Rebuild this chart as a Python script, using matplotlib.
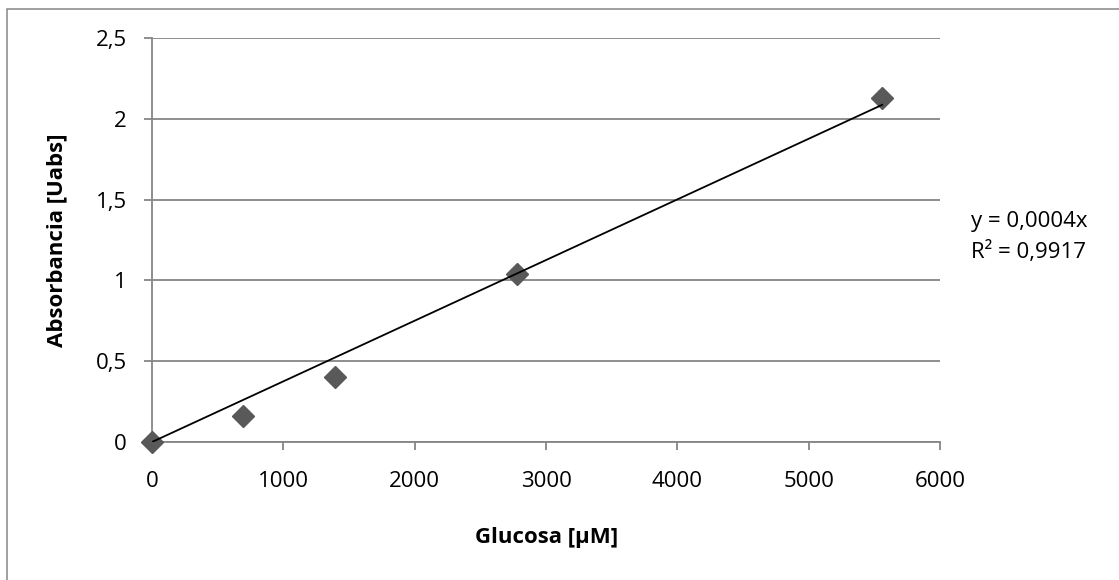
import numpy as np
import matplotlib
matplotlib.use("Agg")
import matplotlib.pyplot as plt
from matplotlib.patches import Rectangle
import matplotlib.ticker as mtick

glucosa = [0, 695, 1390, 2780, 5560]
absorbancia = [0, 0.16, 0.405, 1.04, 2.13]
y_ticks = [0, 0.5, 1, 1.5, 2, 2.5]
x_ticks = [0, 1000, 2000, 3000, 4000, 5000, 6000]
eq_text = "y = 0,0004x"
r2_text = "R² = 0,9917"

plt.rcParams['font.family'] = ['Open Sans', 'DejaVu Sans']
fs = 16
W, H = 1119, 580
fig = plt.figure(figsize=(W / 100, H / 100), dpi=100)

# outer chart border (only top and left visible)
fig.patches.append(Rectangle((7 / W, -0.2), 2, 1.2 - 9 / H,
                             transform=fig.transFigure, fill=False,
                             ec='#868686', lw=1.1))

ax = fig.add_axes([152 / W, 1 - 442 / H, (940 - 152) / W, (442 - 38) / H])

# trend line through origin (least squares)
x = np.array(glucosa, dtype=float)
y = np.array(absorbancia)
slope = (x * y).sum() / (x * x).sum()
xs = np.array([0, x.max()])
ax.plot(xs, slope * xs, color='black', lw=1.3, zorder=4)

ax.plot(glucosa, absorbancia, ls='none', marker='D', ms=11,
        color='#595959', mec='#595959', zorder=3, clip_on=False)

ax.set_xlim(0, 6000)
ax.set_ylim(0, 2.5)
ax.set_xticks(x_ticks)
ax.set_yticks(y_ticks)
ax.yaxis.set_major_formatter(mtick.FuncFormatter(
    lambda v, p: ('%g' % v).replace('.', ',')))
ax.grid(axis='y', color='#868686', lw=1.3)
ax.set_axisbelow(True)
for s in ['top', 'right']:
    ax.spines[s].set_visible(False)
for s in ['left', 'bottom']:
    ax.spines[s].set_color('#868686')
    ax.spines[s].set_linewidth(1.3)
ax.tick_params(axis='both', color='#868686', width=1.3, length=6,
               labelsize=fs, labelcolor='black')
ax.tick_params(axis='x', pad=15)
ax.tick_params(axis='y', pad=12)

fig.text(57 / W, 1 - 240 / H, 'Absorbancia [Uabs]', rotation=90,
         ha='center', va='center', fontsize=fs, fontweight='bold')
fig.text(547 / W, 1 - 538 / H, 'Glucosa [µM]', ha='center', va='center',
         fontsize=fs, fontweight='bold')
fig.text(971 / W, 1 - 222 / H, eq_text, ha='left', va='center', fontsize=fs)
fig.text(971 / W, 1 - 252 / H, r2_text, ha='left', va='center', fontsize=fs)

fig.savefig('out.png', dpi=100, facecolor='white')
